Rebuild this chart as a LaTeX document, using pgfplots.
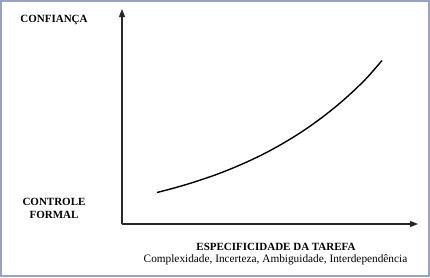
\documentclass[border=0pt]{standalone}
\usepackage{pgfplots}
\pgfplotsset{compat=1.18}
\usepackage{fontspec}
\setmainfont{Liberation Serif}
\usetikzlibrary{arrows.meta}
\definecolor{framec}{RGB}{150,162,192}
\definecolor{axc}{RGB}{40,40,40}
\begin{document}
\begin{tikzpicture}
\begin{axis}[
  scale only axis,
  width=296pt, height=215pt,
  xmin=122, xmax=418, ymin=53, ymax=268,
  axis lines=left,
  axis line style={axc, line width=1.2pt, -{Triangle[length=8pt,width=6pt]}},
  xtick=\empty, ytick=\empty,
  clip=false,
  at={(122pt,53pt)}, anchor=origin,
]
\addplot[black, line width=1.4pt, smooth] coordinates {
(157,84.5) (172,88.4) (187,92.7) (202,97.5) (217,102.7) (232,108.6) (247,115.1)
(262,122.2) (277,130.2) (292,139.0) (307,148.7) (322,159.5) (337,171.4)
(352,184.6) (367,199.3) (382,216.5)
};
\draw[framec, line width=1.5pt] (axis cs:1,1) rectangle (axis cs:429,276);
\node[font=\fontsize{11}{12}\selectfont\bfseries] at (axis cs:54,257) {CONFIANÇA};
\node[font=\fontsize{11}{12}\selectfont\bfseries] at (axis cs:54,75) {CONTROLE};
\node[font=\fontsize{11}{12}\selectfont\bfseries] at (axis cs:54,62) {FORMAL};
\node[font=\fontsize{11}{12}\selectfont\bfseries] at (axis cs:276,30) {ESPECIFICIDADE DA TAREFA};
\node[font=\fontsize{11.3}{12}\selectfont] at (axis cs:275.5,17) {Complexidade, Incerteza, Ambiguidade, Interdependência};
\end{axis}
\useasboundingbox (0,0) rectangle (430pt,277pt);
\end{tikzpicture}
\end{document}
